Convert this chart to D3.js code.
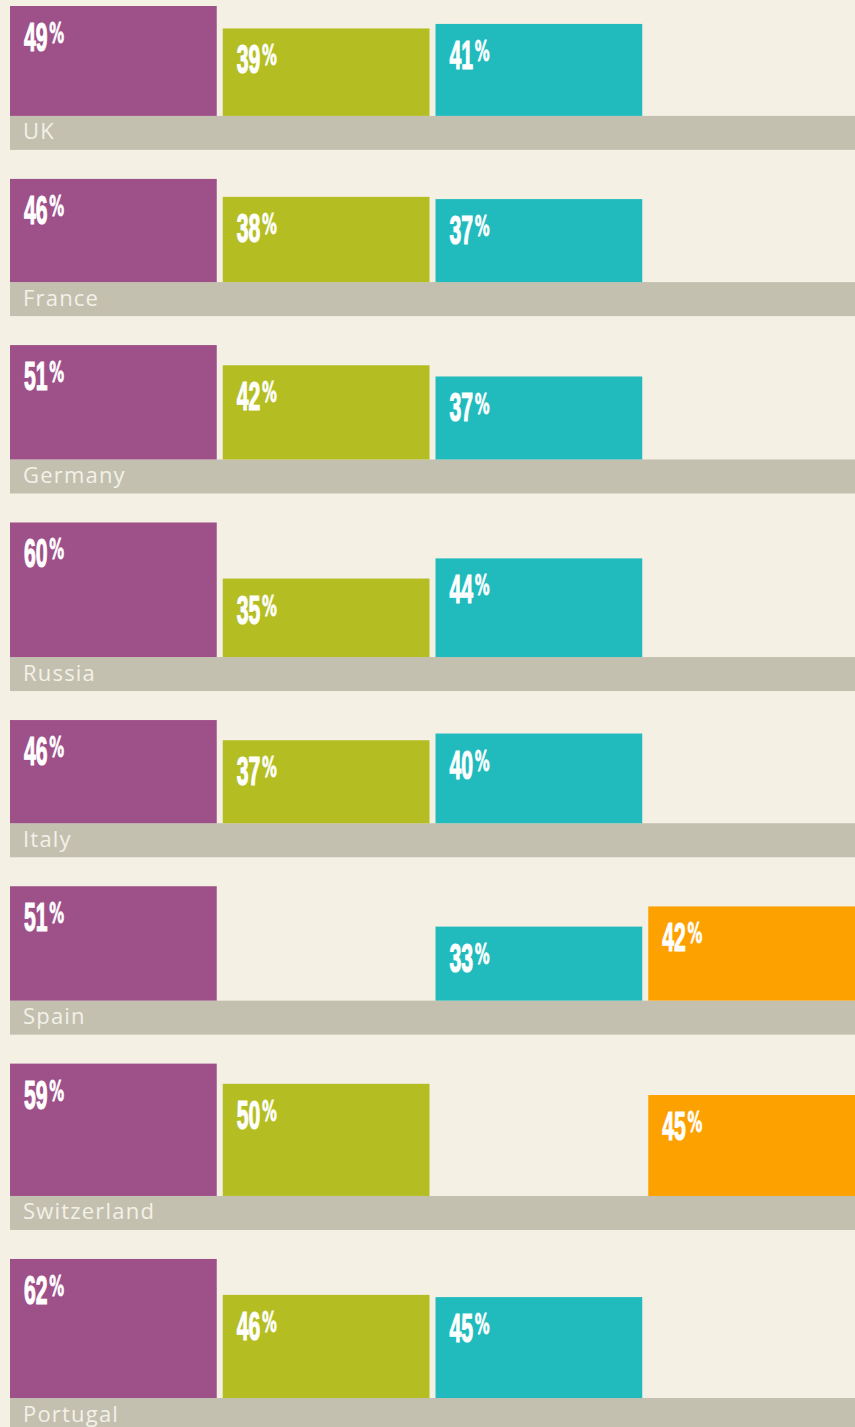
<!DOCTYPE html>
<html>
<head>
<meta charset="utf-8">
<script src="https://cdn.jsdelivr.net/npm/d3@7"></script>
<style>
  html, body { margin: 0; padding: 0; background: #F4F0E4; }
  svg { display: block; }
</style>
</head>
<body>
<div id="chart"></div>
<script>
// data (null = no bar)
const countries = ["UK", "France", "Germany", "Russia", "Italy", "Spain", "Switzerland", "Portugal"];
const seriesNames = ["purple", "green", "teal", "orange"];
const purpleVals = [49, 46, 51, 60, 46, 51, 59, 62];
const greenVals  = [39, 38, 42, 35, 37, null, 50, 46];
const tealVals   = [41, 37, 37, 44, 40, 33, null, 45];
const orangeVals = [null, null, null, null, null, 42, 45, null];
const seriesColours = ["#9E5089", "#B4BE22", "#21BBBD", "#FDA100"];

const width = 855, height = 1427;
const bandH = 34, groupGap = 29, startY = 6;

const svg = d3.select("#chart").append("svg")
    .attr("width", width)
    .attr("height", height);

svg.append("rect")
    .attr("width", width).attr("height", height)
    .attr("fill", "#F4F0E4");

// x: one column per series
const xScale = d3.scaleBand()
    .domain(seriesNames)
    .range([10, 855])
    .paddingInner(0.0282)
    .paddingOuter(0);

// bar height per percentage point
const hScale = d3.scaleLinear()
    .domain([0, 100])
    .range([0, 224.3]);

const colour = d3.scaleOrdinal().domain(seriesNames).range(seriesColours);

// build rows, stacking groups vertically (each group as tall as its biggest bar)
const allSeries = [purpleVals, greenVals, tealVals, orangeVals];
let yCursor = startY;
const rows = countries.map((c, i) => {
    const vals = seriesNames.map((s, j) => ({series: s, value: allSeries[j][i]}));
    const maxV = d3.max(vals, d => d.value);
    const baseline = yCursor + hScale(maxV);
    const row = {country: c, vals: vals, baseline: baseline};
    yCursor = baseline + bandH + groupGap;
    return row;
});

const groups = svg.selectAll(".group")
    .data(rows)
    .enter().append("g")
    .attr("class", "group");

// grey label band
groups.append("rect")
    .attr("x", 10)
    .attr("y", d => d.baseline)
    .attr("width", width - 10)
    .attr("height", bandH)
    .attr("fill", "#C3C0B0");

groups.append("text")
    .attr("x", 23)
    .attr("y", d => d.baseline + 23.5)
    .attr("fill", "#F4F1E8")
    .style("font-family", "'Open Sans', sans-serif")
    .style("font-weight", 400)
    .style("font-size", "22px")
    .style("letter-spacing", "1.2px")
    .text(d => d.country);

// bars
const bars = groups.selectAll(".bar")
    .data(d => d.vals.filter(v => v.value != null).map(v => ({...v, baseline: d.baseline})))
    .enter().append("g")
    .attr("class", "bar");

bars.append("rect")
    .attr("x", d => xScale(d.series))
    .attr("y", d => d.baseline - hScale(d.value))
    .attr("width", xScale.bandwidth())
    .attr("height", d => hScale(d.value))
    .attr("fill", d => colour(d.series));

// value labels: condensed digits + smaller raised %, squeezed horizontally
const labels = bars.append("text")
    .attr("transform", d => `translate(${xScale(d.series) + 14},${d.baseline - hScale(d.value) + 45}) scale(0.53,1)`)
    .attr("fill", "#fff")
    .attr("stroke", "#fff")
    .attr("stroke-width", 1.2)
    .style("font-weight", "bold");

labels.append("tspan")
    .style("font-family", "'Liberation Sans Narrow', 'Liberation Sans', sans-serif")
    .style("font-size", "40px")
    .text(d => d.value);

labels.append("tspan")
    .attr("dx", 3)
    .attr("dy", -8)
    .style("font-family", "'DejaVu Sans', sans-serif")
    .style("font-size", "28px")
    .attr("stroke-width", 0.8)
    .text("%");
</script>
</body>
</html>
